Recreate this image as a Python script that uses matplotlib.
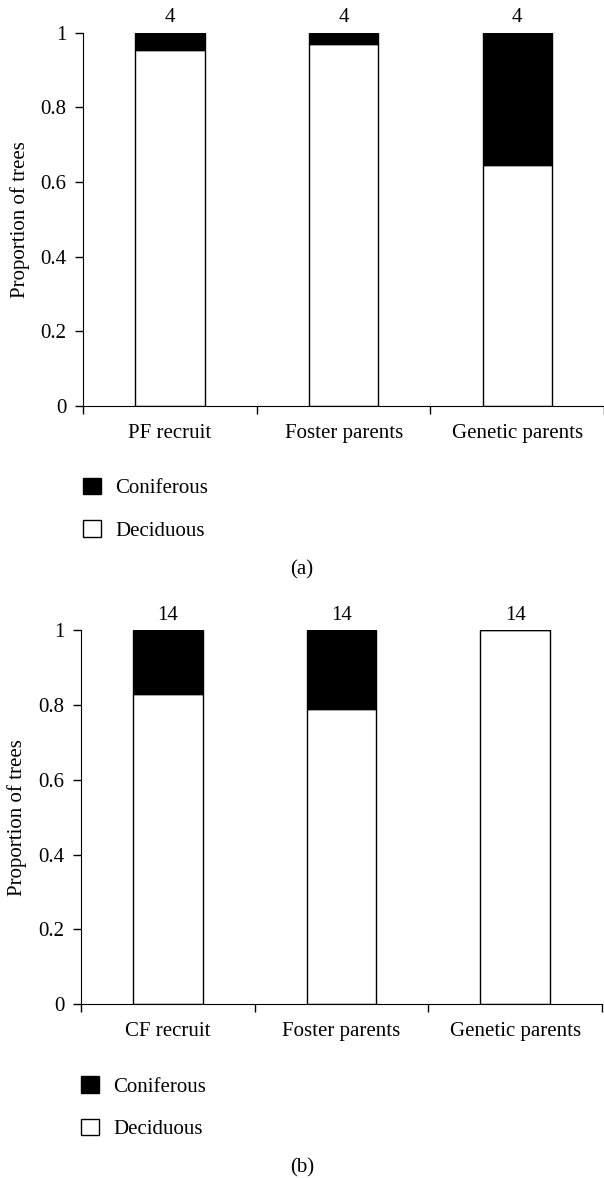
import matplotlib
matplotlib.use("Agg")
import matplotlib.pyplot as plt
from matplotlib.patches import Patch

plt.rcParams['font.family'] = ['Liberation Serif', 'DejaVu Serif']
plt.rcParams['font.size'] = 15

# panel (a)
groups_a = ['PF recruit', 'Foster parents', 'Genetic parents']
deciduous_a = [0.953, 0.971, 0.646]
counts_a = [4, 4, 4]

# panel (b)
groups_b = ['CF recruit', 'Foster parents', 'Genetic parents']
deciduous_b = [0.830, 0.790, 1.0]
counts_b = [14, 14, 14]

yticks = [0, 0.2, 0.4, 0.6, 0.8, 1]
ytick_labels = ['0', '0.2', '0.4', '0.6', '0.8', '1']


def draw_panel(ax, groups, deciduous, counts):
    xs = [i + 0.5 for i in range(len(groups))]
    coniferous = [1 - d for d in deciduous]
    ax.bar(xs, deciduous, width=0.4, color='white', edgecolor='black', linewidth=1)
    ax.bar(xs, coniferous, width=0.4, bottom=deciduous, color='black', edgecolor='black', linewidth=1)
    for x, n in zip(xs, counts):
        ax.annotate(str(n), (x, 1), xytext=(0, 11), textcoords='offset points',
                    ha='center', va='center', fontsize=15)

    ax.set_xlim(0, 3)
    ax.set_ylim(0, 1)
    ax.set_yticks(yticks)
    ax.set_yticklabels(ytick_labels)
    ax.set_xticks([0, 1, 2, 3])
    ax.set_xticklabels([])
    ax.set_xticks(xs, minor=True)
    ax.set_xticklabels(groups, minor=True)
    ax.tick_params(axis='x', which='minor', length=0, pad=13)
    ax.tick_params(axis='both', which='major', direction='out', length=6, width=1, pad=6)
    ax.spines['top'].set_visible(False)
    ax.spines['right'].set_visible(False)
    ax.set_ylabel('Proportion of trees')
    ax.yaxis.set_label_coords(-0.103, 0.5)


fig = plt.figure(figsize=(6.04, 11.78), dpi=100)

ax_a = fig.add_axes([0.1379, 0.6554, 0.8621, 0.3168])
draw_panel(ax_a, groups_a, deciduous_a, counts_a)

ax_b = fig.add_axes([0.1341, 0.1477, 0.8626, 0.3172])
draw_panel(ax_b, groups_b, deciduous_b, counts_b)

handles = [Patch(facecolor='black', edgecolor='black', label='Coniferous'),
           Patch(facecolor='white', edgecolor='black', label='Deciduous')]

for lx, ly in [(0.1374, 0.5678), (0.1341, 0.0597)]:
    fig.legend(handles=handles, loc='center left', bbox_to_anchor=(lx, ly),
               bbox_transform=fig.transFigure, frameon=False, borderpad=0,
               borderaxespad=0, handlelength=0.85, handleheight=0.85,
               handletextpad=0.7, labelspacing=1.05, fontsize=15)

fig.text(0.5, 1 - 570 / 1178, '(a)', ha='center', va='center', fontsize=15)
fig.text(0.5, 1 - 1168 / 1178, '(b)', ha='center', va='center', fontsize=15)

fig.savefig('out.png', dpi=100)
